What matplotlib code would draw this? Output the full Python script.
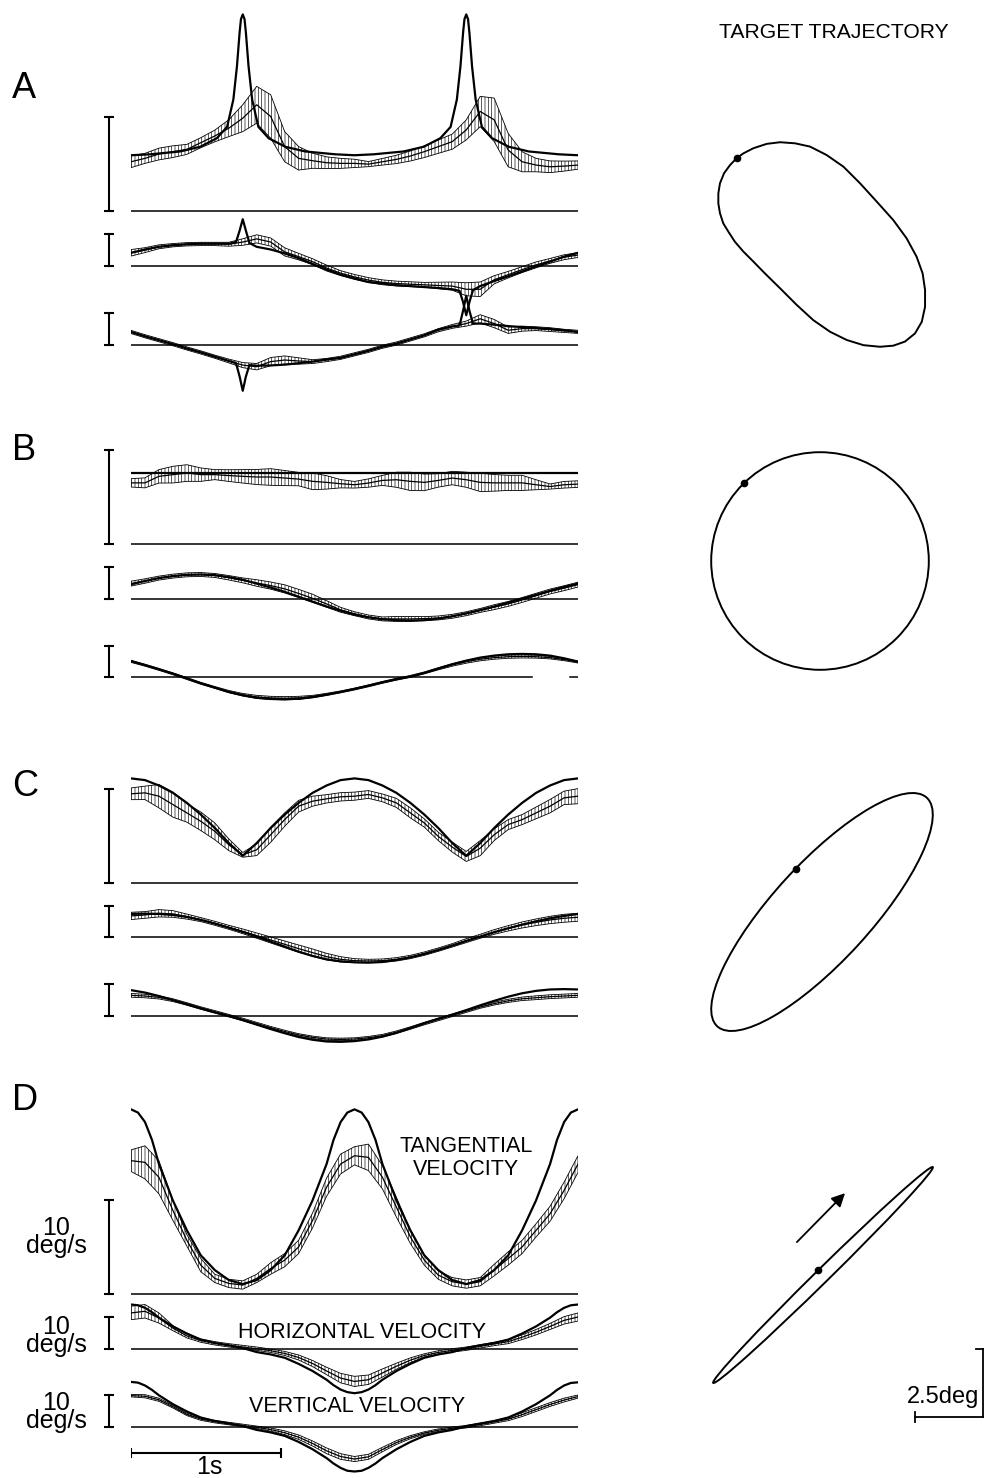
import numpy as np
import matplotlib.pyplot as plt
from matplotlib.patches import Ellipse, Polygon

plt.rcParams['font.family'] = ['Liberation Sans', 'DejaVu Sans']
plt.rcParams['hatch.linewidth'] = 0.45
plt.rcParams['hatch.color'] = 'black'

# ------------------------------------------------------------------ data
CYCLE = 2.98                      # s, one revolution of the target
grid = np.linspace(0, 1, 33)      # sampling of the eye records (fraction of cycle)

# --- A : oblong trajectory
A_tang_target_t = [0, 0.043, 0.11, 0.155, 0.192, 0.215, 0.229, 0.237, 0.243, 0.246,
                   0.25, 0.254, 0.257, 0.263, 0.271, 0.285, 0.308, 0.345, 0.39, 0.457,
                   0.5, 0.543, 0.61, 0.655, 0.692, 0.715, 0.729, 0.737, 0.743, 0.746,
                   0.75, 0.754, 0.757, 0.763, 0.771, 0.785, 0.808, 0.845, 0.89, 0.957, 1.0]
A_tang_target = [5.9, 6.0, 6.3, 6.8, 7.7, 8.9, 11.8, 15.3, 18.9, 20.3,
                 20.8, 20.3, 18.9, 15.3, 11.8, 8.9, 7.7, 6.8, 6.3, 6.0,
                 5.9, 6.0, 6.3, 6.8, 7.7, 8.9, 11.8, 15.3, 18.9, 20.3,
                 20.8, 20.3, 18.9, 15.3, 11.8, 8.9, 7.7, 6.8, 6.3, 6.0, 5.9]
A_tang_eye = [5.21, 5.57, 6.03, 6.28, 6.52, 7.23, 7.94, 8.76, 9.82, 11.24,
              10.0, 6.81, 5.57, 5.32, 5.11, 5.04, 5.04, 4.96, 5.21, 5.46,
              5.82, 6.28, 6.81, 7.34, 8.58, 10.53, 9.65, 6.45, 5.21, 4.86,
              4.68, 4.75, 4.86]
A_tang_sd = [0.62, 0.53, 0.62, 0.62, 0.53, 0.53, 0.62, 0.89, 1.42, 1.95,
             2.3, 1.6, 1.24, 0.8, 0.62, 0.53, 0.44, 0.27, 0.35, 0.44,
             0.53, 0.62, 0.71, 0.8, 1.06, 1.6, 2.3, 1.77, 1.06, 0.71,
             0.62, 0.53, 0.44]

A_hv_target_t = [0, 0.031, 0.0625, 0.094, 0.125, 0.156, 0.1875, 0.219,
                 0.235, 0.243, 0.25, 0.257, 0.265,
                 0.281, 0.3125, 0.344, 0.375, 0.406, 0.4375, 0.469,
                 0.5, 0.531, 0.5625, 0.594, 0.625, 0.656, 0.6875, 0.719,
                 0.735, 0.743, 0.75, 0.757, 0.765,
                 0.781, 0.8125, 0.844, 0.875, 0.906, 0.9375, 0.969, 1.0]
A_horiz_target = [4.0, 5.05, 5.9, 6.4, 6.7, 6.9, 6.9, 6.9,
                  7.4, 11.0, 14.6, 11.0, 7.1,
                  5.9, 5.05, 3.8, 2.3, 0.5, -1.3, -2.9,
                  -4.1, -5.2, -5.7, -6.2, -6.5, -6.8, -7.1, -7.5,
                  -8.0, -11.6, -15.7, -11.6, -7.8,
                  -6.5, -4.9, -3.4, -1.9, -0.3, 1.2, 2.8, 4.0]
A_horiz_eye = [4.0, 4.85, 5.9, 6.4, 6.7, 6.8, 6.8, 6.7, 7.4, 8.4,
               7.4, 4.3, 2.8, 1.2, -0.8, -2.4, -3.6, -4.6, -5.3, -5.7,
               -5.9, -6.1, -6.3, -6.5, -7.5, -7.5, -4.5, -2.9, -1.3, 0.2,
               1.45, 2.6, 3.3]
A_horiz_sd = [1.03, 0.77, 0.62, 0.52, 0.52, 0.52, 0.52, 0.62, 1.03, 1.29,
              1.29, 1.29, 1.03, 0.93, 0.93, 0.77, 0.77, 0.77, 0.77, 0.77,
              0.77, 0.77, 1.03, 1.29, 2.06, 2.3, 1.29, 1.03, 0.93, 0.93,
              0.77, 0.77, 0.77]
A_vert_target = [3.96, 2.6, 1.35, 0.1, -1.25, -2.5, -3.85, -5.2,
                 -5.9, -10.1, -14.6, -10.1, -6.5,
                 -6.7, -6.6, -6.35, -5.9, -5.4, -4.7, -4.2,
                 -3.1, -2.0, -0.7, 0.3, 1.6, 2.9, 4.7, 5.7,
                 6.0, 10.7, 15.4, 10.7, 6.6,
                 6.6, 6.25, 5.8, 5.5, 5.2, 4.9, 4.5, 3.96]
A_vert_eye = [3.96, 2.6, 1.35, 0.1, -1.25, -2.5, -3.85, -5.2, -6.5, -7.0,
              -5.4, -4.9, -5.2, -5.4, -4.9, -4.2, -3.1, -2.0, -0.7, 0.3,
              1.6, 2.9, 4.5, 5.7, 6.6, 8.1, 6.6, 4.5, 5.0, 5.0,
              4.7, 4.3, 4.0]
A_vert_sd = [0.5, 0.5, 0.5, 0.5, 0.5, 0.5, 0.5, 0.6, 0.8, 1.0,
             1.3, 1.3, 1.0, 0.6, 0.5, 0.5, 0.5, 0.5, 0.5, 0.5,
             0.5, 0.5, 0.5, 0.6, 0.8, 1.3, 1.3, 1.0, 0.8, 0.6,
             0.6, 0.5, 0.5]

# --- B : circle
B_tang_target_t = [0, 1]
B_tang_target = [7.5, 7.5]
B_tang_eye = [6.47, 6.47, 7.16, 7.34, 7.51, 7.34, 7.34, 7.24, 7.16, 7.09,
              7.09, 6.98, 6.87, 6.63, 6.52, 6.38, 6.27, 6.45, 6.73, 6.80,
              6.63, 6.52, 6.73, 6.98, 6.80, 6.52, 6.47, 6.47, 6.47, 6.27,
              6.08, 6.27, 6.34]
B_tang_sd = [0.44, 0.53, 0.71, 0.88, 0.88, 0.71, 0.53, 0.62, 0.71, 0.80,
             0.88, 0.80, 0.71, 0.88, 0.71, 0.44, 0.35, 0.44, 0.53, 0.80,
             0.97, 0.88, 0.71, 0.71, 0.80, 0.97, 0.88, 0.80, 0.80, 0.53,
             0.27, 0.35, 0.35]
B_horiz_target = [4.64, 5.67, 6.6, 7.22, 7.63, 7.73, 7.53, 6.91, 6.08, 4.85,
                  3.61, 2.27, 0.72, -0.82, -2.37, -3.71, -4.95, -5.77, -6.39, -6.7,
                  -6.8, -6.7, -6.19, -5.46, -4.54, -3.51, -2.37, -1.13, 0.1, 1.34,
                  2.58, 3.81, 4.85]
B_horiz_eye = [4.85, 5.67, 6.6, 7.22, 7.63, 7.73, 7.42, 6.7, 5.88, 5.05,
               4.23, 3.2, 1.75, 0.21, -1.55, -3.4, -4.64, -5.67, -6.29, -6.29,
               -6.29, -6.19, -5.98, -5.46, -4.64, -3.61, -2.58, -1.55, -0.31, 1.03,
               2.37, 3.4, 4.54]
B_horiz_sd = [0.77, 0.7, 0.62, 0.62, 0.62, 0.62, 0.62, 0.7, 0.77, 1.03,
              1.13, 1.29, 1.29, 1.29, 1.03, 0.77, 0.62, 0.62, 0.62, 0.77,
              0.77, 0.62, 0.62, 0.62, 0.62, 0.62, 0.77, 0.77, 0.77, 0.77,
              0.77, 0.77, 0.77]
B_vert_target = [5.16, 3.89, 2.53, 1.16, -0.32, -1.89, -3.26, -4.63, -5.68, -6.42,
                 -6.84, -6.95, -6.74, -6.21, -5.47, -4.63, -3.68, -2.63, -1.58, -0.63,
                 0.21, 1.37, 2.74, 4.11, 5.26, 6.21, 6.84, 7.26, 7.37, 7.26,
                 6.84, 6.0, 4.95]
B_vert_eye = [5.0, 3.8, 2.5, 1.1, -0.4, -1.9, -3.2, -4.5, -5.5, -6.2,
              -6.5, -6.6, -6.5, -6.1, -5.4, -4.6, -3.7, -2.7, -1.6, -0.6,
              0.3, 1.4, 2.7, 3.9, 4.9, 5.7, 6.2, 6.5, 6.6, 6.5,
              6.2, 5.6, 4.8]
B_vert_sd = [0.3, 0.3, 0.3, 0.3, 0.3, 0.3, 0.3, 0.35, 0.4, 0.5,
             0.5, 0.5, 0.5, 0.4, 0.35, 0.3, 0.3, 0.3, 0.3, 0.3,
             0.3, 0.3, 0.35, 0.4, 0.45, 0.5, 0.5, 0.5, 0.5, 0.45,
             0.4, 0.35, 0.3]

# --- C : ellipse
C_tang_target = [11.1, 10.92, 10.35, 9.57, 8.51, 7.27, 5.85, 4.26, 2.91, 4.26,
                 5.85, 7.27, 8.51, 9.57, 10.35, 10.92, 11.1, 10.92, 10.35, 9.57,
                 8.51, 7.27, 5.85, 4.26, 2.91, 4.26, 5.85, 7.27, 8.51, 9.57,
                 10.35, 10.92, 11.1]
C_tang_eye = [9.47, 9.57, 9.22, 8.33, 7.45, 6.56, 5.50, 4.08, 3.01, 3.55,
              5.14, 6.74, 8.16, 8.69, 8.94, 9.15, 9.22, 9.40, 9.04, 8.51,
              7.45, 6.38, 4.96, 3.83, 2.84, 3.72, 5.14, 6.21, 6.74, 7.45,
              8.16, 9.04, 9.22]
C_tang_sd = [0.62, 0.71, 1.24, 1.33, 0.98, 0.98, 0.89, 0.62, 0.25, 0.62,
             0.80, 0.71, 0.62, 0.53, 0.44, 0.44, 0.43, 0.41, 0.41, 0.48,
             0.53, 0.44, 0.44, 0.53, 0.53, 0.80, 0.62, 0.53, 0.53, 0.62,
             0.71, 0.71, 0.80]
C_horiz_target = [7.37, 7.47, 7.37, 7.05, 6.42, 5.47, 4.32, 3.05, 1.68, 0.21,
                  -1.37, -2.95, -4.53, -5.89, -6.95, -7.58, -7.89, -8.0, -7.79, -7.16,
                  -6.32, -5.26, -4.0, -2.63, -1.16, 0.21, 1.58, 2.84, 4.0, 5.05,
                  6.0, 6.74, 7.37]
C_horiz_eye = [6.74, 7.05, 7.58, 7.37, 6.53, 5.58, 4.42, 3.16, 1.89, 0.53,
               -0.84, -2.21, -3.58, -4.84, -6.11, -6.95, -7.37, -7.47, -7.37, -6.95,
               -6.21, -5.16, -3.89, -2.53, -1.05, 0.32, 1.68, 2.84, 3.89, 4.74,
               5.47, 6.0, 6.32]
C_horiz_sd = [1.16, 1.05, 1.16, 1.05, 0.79, 0.63, 0.63, 0.63, 0.74, 0.84,
              0.95, 1.05, 1.16, 1.16, 1.05, 0.84, 0.63, 0.53, 0.53, 0.53,
              0.53, 0.53, 0.53, 0.53, 0.63, 0.63, 0.74, 0.84, 0.95, 1.05,
              1.16, 1.26, 1.26]
C_vert_target = [8.15, 7.39, 6.3, 5.0, 3.7, 2.39, 1.2, 0.0, -1.3, -2.72,
                 -4.13, -5.43, -6.63, -7.5, -8.04, -8.15, -7.93, -7.39, -6.52, -5.33,
                 -3.8, -2.28, -0.87, 0.43, 1.85, 3.37, 4.78, 6.09, 7.17, 7.93,
                 8.37, 8.48, 8.37]
C_vert_eye = [6.52, 6.3, 5.87, 5.0, 3.8, 2.5, 1.3, 0.11, -1.09, -2.39,
              -3.7, -4.89, -5.98, -6.74, -7.28, -7.39, -7.28, -6.85, -6.2, -5.11,
              -3.8, -2.39, -1.09, 0.22, 1.52, 2.83, 3.91, 4.78, 5.43, 5.76,
              6.09, 6.3, 6.52]
C_vert_sd = [0.6, 0.55, 0.5, 0.45, 0.4, 0.4, 0.4, 0.4, 0.4, 0.4,
             0.4, 0.4, 0.4, 0.4, 0.4, 0.4, 0.4, 0.4, 0.4, 0.4,
             0.4, 0.4, 0.4, 0.4, 0.4, 0.4, 0.45, 0.5, 0.55, 0.6,
             0.6, 0.6, 0.6]

# --- D : very thin ellipse
D_target_t = [0, 0.0156, 0.03125, 0.047, 0.0625, 0.09375, 0.125, 0.156, 0.1875, 0.219,
              0.25, 0.281, 0.3125, 0.344, 0.375, 0.406, 0.4375, 0.453, 0.469, 0.484,
              0.5, 0.516, 0.531, 0.547, 0.5625, 0.594, 0.625, 0.656, 0.6875, 0.719,
              0.75, 0.781, 0.8125, 0.844, 0.875, 0.906, 0.9375, 0.953, 0.969, 0.984, 1.0]
D_tang_target = [19.54, 19.2, 18.2, 16.3, 13.75, 9.89, 6.74, 4.1, 2.53, 1.47,
                 1.05, 1.47, 2.53, 4.1, 6.74, 9.89, 13.75, 16.3, 18.2, 19.2,
                 19.54, 19.2, 18.2, 16.3, 13.75, 9.89, 6.74, 4.1, 2.53, 1.47,
                 1.05, 1.47, 2.53, 4.1, 6.74, 9.89, 13.75, 16.3, 18.2, 19.2, 19.54]
D_tang_eye = [14.11, 13.93, 12.35, 8.84, 5.68, 3.05, 1.65, 1.12, 0.95, 1.65,
              2.7, 3.58, 4.98, 7.79, 11.3, 13.75, 14.63, 14.46, 12.35, 9.19,
              6.04, 3.58, 2.0, 1.3, 1.05, 1.3, 2.53, 3.75, 4.98, 6.74,
              8.49, 10.95, 13.75]
D_tang_sd = [1.14, 1.75, 1.75, 1.05, 0.61, 0.70, 0.44, 0.44, 0.44, 0.44,
             0.61, 0.70, 0.70, 0.79, 0.96, 1.05, 0.96, 1.4, 1.23, 1.05,
             0.70, 0.53, 0.44, 0.44, 0.44, 0.44, 0.61, 0.70, 0.70, 0.70,
             0.79, 0.88, 0.88]
D_horiz_target = [13.94, 13.7, 12.9, 11.5, 9.79, 7.02, 4.79, 2.87, 1.81, 1.06,
                  0.2, -1.06, -1.81, -2.87, -4.79, -7.02, -9.79, -11.5, -12.9, -13.7,
                  -14.04, -13.7, -12.9, -11.5, -9.79, -7.02, -4.79, -2.87, -1.81, -1.06,
                  0.2, 1.06, 1.81, 2.87, 4.79, 7.02, 9.79, 11.5, 12.9, 13.7, 13.94]
D_horiz_eye = [11.28, 11.81, 9.68, 6.49, 4.04, 2.55, 1.70, 1.06, 0.53, 0.0,
               -0.64, -1.49, -2.77, -4.68, -7.02, -9.26, -10.32, -9.79, -7.66, -5.53,
               -3.62, -2.13, -1.17, -0.53, 0.0, 0.74, 1.49, 2.23, 3.62, 5.21,
               7.02, 8.94, 10.0]
D_horiz_sd = [2.13, 2.13, 1.6, 0.8, 0.64, 0.53, 0.53, 0.53, 0.53, 0.53,
              0.53, 0.64, 0.8, 0.96, 1.17, 1.49, 1.6, 1.49, 1.28, 0.96,
              0.74, 0.53, 0.53, 0.53, 0.53, 0.53, 0.53, 0.64, 0.74, 0.85,
              0.96, 1.17, 1.28]
D_vert_target = [14.13, 13.9, 13.0, 11.6, 9.9, 7.1, 4.8, 2.9, 1.8, 1.0,
                 0.2, -1.0, -1.8, -2.9, -4.8, -7.1, -9.9, -11.6, -13.0, -13.9,
                 -14.13, -13.9, -13.0, -11.6, -9.9, -7.1, -4.8, -2.9, -1.8, -1.0,
                 0.2, 1.0, 1.8, 2.9, 4.8, 7.1, 9.9, 11.6, 13.0, 13.8, 14.0]
D_vert_eye = [9.8, 9.6, 8.5, 6.3, 3.9, 2.4, 1.6, 1.0, 0.4, -0.2,
              -0.9, -1.9, -3.3, -5.3, -7.6, -9.4, -10.2, -9.5, -7.2, -5.0,
              -3.3, -2.0, -1.1, -0.5, 0.0, 0.7, 1.5, 2.4, 3.8, 5.4,
              7.0, 8.4, 9.5]
D_vert_sd = [0.4, 0.5, 0.5, 0.4, 0.4, 0.4, 0.4, 0.4, 0.4, 0.4,
             0.5, 0.6, 0.7, 0.8, 0.9, 0.9, 0.8, 0.8, 0.7, 0.6,
             0.5, 0.4, 0.4, 0.4, 0.4, 0.4, 0.4, 0.5, 0.6, 0.6,
             0.6, 0.6, 0.5]

# target trajectories (deg, relative to centre)
A_traj_x = [-1.53, -0.98, -0.43, 0.18, 0.80, 1.41, 2.02, 2.63, 3.12, 3.49,
            3.71, 3.80, 3.80, 3.68, 3.43, 3.06, 2.63, 2.14, 1.53, 0.92,
            0.31, -0.31, -0.92, -1.53, -2.09, -2.51, -2.88, -3.19, -3.43, -3.62,
            -3.74, -3.80, -3.80, -3.74, -3.59, -3.37, -3.13, -2.88, -2.51, -2.02]
A_traj_y = [3.76, 3.72, 3.60, 3.29, 2.86, 2.25, 1.58, 0.90, 0.23, -0.45,
            -1.06, -1.67, -2.29, -2.84, -3.27, -3.57, -3.72, -3.76, -3.70, -3.51,
            -3.21, -2.78, -2.22, -1.61, -1.06, -0.63, -0.26, 0.10, 0.47, 0.78,
            1.15, 1.51, 1.88, 2.25, 2.62, 2.92, 3.17, 3.35, 3.54, 3.70]
A_start = (-3.13, 3.17)
B_radius = 4.0
B_start = (-2.78, 2.88)
C_axes = (5.7, 1.8, 47.5)         # semi-major, semi-minor, tilt (deg)
C_start = (-0.95, 1.58)
D_axes = (5.66, 0.25, 44.5)
D_start = (-0.17, 0.2)
D_arrow = [(-0.96, 1.21), (0.81, 3.01)]
SCALE_DEG = 2.5

# ------------------------------------------------------------------ layout
W, H = 986.0, 1478.0
fig = plt.figure(figsize=(W / 100, H / 100), dpi=100)

X0, X1 = 131, 578      # trace span in pixels
BAR_X = 109
PPU_T, PPU_HV = 9.45, 3.17
PPD = 27.2             # pixels per degree on the trajectories


def box(x0, y0, x1, y1):
    return [x0 / W, 1 - y1 / H, (x1 - x0) / W, (y1 - y0) / H]


def ftext(x, y, s, **kw):
    fig.text(x / W, 1 - y / H, s, **kw)


def trace(base, ppu, tt, target, eye, sd, lo, hi, baseline=((0, 1),)):
    ax = fig.add_axes(box(X0, base - hi * ppu, X1, base - lo * ppu))
    ax.set_xlim(0, CYCLE)
    ax.set_ylim(lo, hi)
    ax.axis('off')
    t = grid * CYCLE
    eye = np.asarray(eye)
    sd = np.asarray(sd)
    ax.fill_between(t, eye - sd, eye + sd, facecolor='none', edgecolor='k',
                    lw=0.6, hatch='|||||')
    ax.plot(t, eye, color='k', lw=0.9)
    ax.plot(np.asarray(tt) * CYCLE, target, color='k', lw=1.6,
            solid_joinstyle='round')
    for a, b in baseline:
        ax.plot([a * CYCLE, b * CYCLE], [0, 0], color='k', lw=1.1)
    xb = (BAR_X - X0) / (X1 - X0) * CYCLE
    ax.plot([xb, xb], [0, 10], color='k', lw=1.5, marker='_', ms=7.5, mew=1.5,
            clip_on=False)
    return ax


panels = [
    ('A', 89, (211, 265.5, 344.5),
     (A_tang_target_t, A_tang_target, A_tang_eye, A_tang_sd),
     (A_hv_target_t, A_horiz_target, A_horiz_eye, A_horiz_sd),
     (A_hv_target_t, A_vert_target, A_vert_eye, A_vert_sd)),
    ('B', 451, (544, 599, 677.3),
     (B_tang_target_t, B_tang_target, B_tang_eye, B_tang_sd),
     (grid, B_horiz_target, B_horiz_eye, B_horiz_sd),
     (grid, B_vert_target, B_vert_eye, B_vert_sd)),
    ('C', 787, (883.3, 937.3, 1016),
     (grid, C_tang_target, C_tang_eye, C_tang_sd),
     (grid, C_horiz_target, C_horiz_eye, C_horiz_sd),
     (grid, C_vert_target, C_vert_eye, C_vert_sd)),
    ('D', 1100, (1294, 1348.7, 1426.7),
     (D_target_t, D_tang_target, D_tang_eye, D_tang_sd),
     (D_target_t, D_horiz_target, D_horiz_eye, D_horiz_sd),
     (D_target_t, D_vert_target, D_vert_eye, D_vert_sd)),
]

for letter, ly, bases, tang, horiz, vert in panels:
    ftext(12, ly, letter, fontsize=26, ha='left', va='center')
    trace(bases[0], PPU_T, *tang, lo=-3, hi=23)
    trace(bases[1], PPU_HV, *horiz, lo=-18, hi=18)
    if letter == 'B':
        trace(bases[2], PPU_HV, *vert, lo=-18, hi=18,
              baseline=((0, 0.897), (0.983, 1)))
    else:
        trace(bases[2], PPU_HV, *vert, lo=-18, hi=18)

# labels of panel D
ftext(466, 1158, 'TANGENTIAL\nVELOCITY', fontsize=15.5, ha='center', va='center',
      linespacing=1.12)
ftext(362, 1332, 'HORIZONTAL VELOCITY', fontsize=15.5, ha='center', va='center')
ftext(357, 1407, 'VERTICAL VELOCITY', fontsize=15.5, ha='center', va='center')
for yc in (1237, 1336, 1412):
    ftext(56, yc, '10\ndeg/s', fontsize=18, ha='center', va='center',
          linespacing=0.72)

# 1 s time bar
axs = fig.add_axes(box(X0, 1440, X1, 1465))
axs.set_xlim(0, CYCLE)
axs.set_ylim(-1, 1)
axs.axis('off')
axs.plot([0, 1.0], [0, 0], color='k', lw=1.5, marker='|', ms=7.5, mew=1.5)
ftext(209, 1474, '1s', fontsize=18, ha='center', va='baseline')

# ------------------------------------------------------------------ trajectories
ftext(834, 33, 'TARGET TRAJECTORY', fontsize=15.2, ha='center', va='center')


def traj_axes(cx, cy, half=180):
    ax = fig.add_axes(box(cx - half, cy - half, cx + half, cy + half))
    ax.set_xlim(-half / PPD, half / PPD)
    ax.set_ylim(-half / PPD, half / PPD)
    ax.set_aspect('equal')
    ax.axis('off')
    return ax


ax = traj_axes(821.7, 244.5)
ax.add_patch(Polygon(np.column_stack([A_traj_x, A_traj_y]), closed=True,
                     fill=False, lw=1.4, joinstyle='round'))
ax.plot(*A_start, 'ko', ms=4.5)

ax = traj_axes(820, 561)
ax.add_patch(Ellipse((0, 0), 2 * B_radius, 2 * B_radius, fill=False, lw=1.4))
ax.plot(*B_start, 'ko', ms=4.5)

ax = traj_axes(822, 912)
ax.add_patch(Ellipse((0, 0), 2 * C_axes[0], 2 * C_axes[1], angle=C_axes[2],
                     fill=False, lw=1.4))
ax.plot(*C_start, 'ko', ms=4.5)

ax = traj_axes(823, 1275)
ax.add_patch(Ellipse((0, 0), 2 * D_axes[0], 2 * D_axes[1], angle=D_axes[2],
                     fill=False, lw=1.4))
ax.plot(*D_start, 'ko', ms=4.5)
ax.annotate('', xy=D_arrow[1], xytext=D_arrow[0],
            arrowprops=dict(arrowstyle='-|>', color='k', lw=1.3,
                            mutation_scale=20, shrinkA=0, shrinkB=0))
# 2.5 deg scale
cx, cy = 5.88, -5.22
ax.plot([cx, cx], [cy, cy + SCALE_DEG], color='k', lw=1.3, clip_on=False)
ax.plot([cx - 0.25, cx], [cy + SCALE_DEG, cy + SCALE_DEG], color='k', lw=1.3,
        clip_on=False)
ax.plot([cx - SCALE_DEG, cx], [cy, cy], color='k', lw=1.3, clip_on=False)
ax.plot([cx - SCALE_DEG, cx - SCALE_DEG], [cy - 0.2, cy + 0.2], color='k', lw=1.3,
        clip_on=False)
ax.text(5.74, -4.71, '2.5deg', fontsize=17, ha='right', va='baseline')

fig.savefig('out.png', dpi=100)
